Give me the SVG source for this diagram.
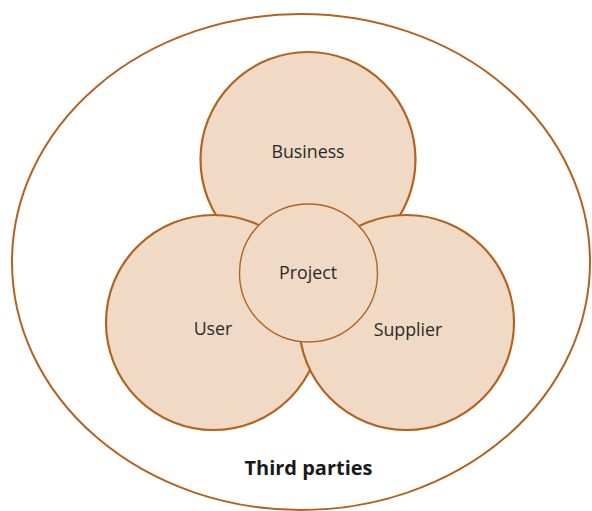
<svg xmlns="http://www.w3.org/2000/svg" width="592" height="511" viewBox="0 0 592 511">
<style>
.big{fill:#f0dac6;stroke:#b3631f;stroke-width:2.2}
.proj{fill:#f0dac6;stroke:#b3631f;stroke-width:1.4}
.outer{fill:#ffffff;stroke:#b3631f;stroke-width:2}
.lbl{font-family:"Open Sans",sans-serif;font-size:17.8px;fill:#2a2a2a;text-anchor:middle}
.ttl{font-family:"Open Sans",sans-serif;font-size:20px;font-weight:bold;fill:#1a1a1a;text-anchor:middle}
</style>
<rect width="592" height="511" fill="#ffffff"/>
<g id="third-parties">
<ellipse class="outer" cx="301" cy="262" rx="289" ry="248"/>
<text class="ttl" x="308.5" y="475">Third parties</text>
</g>
<g id="business">
<circle class="big" cx="308" cy="159.5" r="107.5"/>
<text class="lbl" x="308" y="158">Business</text>
</g>
<g id="user">
<circle class="big" cx="213.5" cy="322.5" r="107.5"/>
<text class="lbl" x="213" y="335">User</text>
</g>
<g id="supplier">
<circle class="big" cx="406.5" cy="322.5" r="107.5"/>
<text class="lbl" x="408" y="336">Supplier</text>
</g>
<g id="project">
<circle class="proj" cx="308.5" cy="273" r="69"/>
<text class="lbl" x="308" y="279">Project</text>
</g>
<g id="connectors"></g>
</svg>
